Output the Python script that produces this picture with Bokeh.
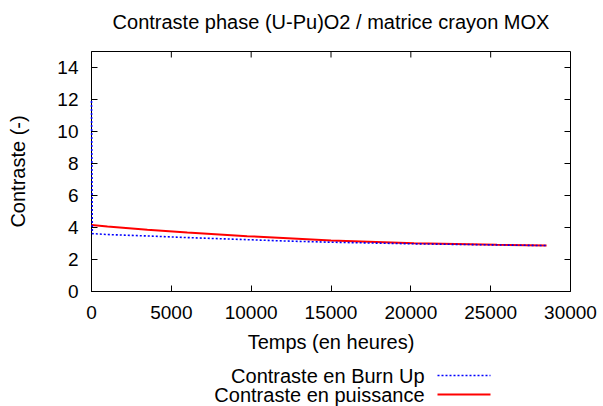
from bokeh.plotting import figure
from bokeh.models import FixedTicker, Range1d
from bokeh.layouts import column
from bokeh.embed import file_html
from bokeh.resources import INLINE
from bokeh.core.properties import value

# ---- data ----
time_burnup = [0, 50, 1000, 3500, 6000, 9750, 12000, 15000, 20200, 25400, 28500]
contrast_burnup = [11.9, 3.62, 3.56, 3.47, 3.37, 3.24, 3.16, 3.08, 2.98, 2.91, 2.87]
time_power = [0, 1000, 3500, 6000, 9750, 12000, 15000, 20200, 25400, 28500]
contrast_power = [4.15, 4.06, 3.86, 3.69, 3.46, 3.34, 3.18, 3.01, 2.92, 2.88]
x_ticks = [0, 5000, 10000, 15000, 20000, 25000, 30000]
y_ticks = [0, 2, 4, 6, 8, 10, 12, 14]
legend_labels = ["Contraste en Burn Up", "Contraste en puissance"]
title_text = "Contraste phase (U-Pu)O2 / matrice crayon MOX"
x_label = "Temps (en heures)"
y_label = "Contraste (-)"

X_MIN, X_MAX = 0, 30000
Y_MIN, Y_MAX = 0, 15

FONT = "Liberation Sans"
FS_TICK = "19px"
FS = "20px"
W = 603
H_TITLE = 40
H_MAIN = 320
H_LEG = 46
B_LEFT, B_RIGHT, B_TOP, B_BOTTOM = 91, 33, 11, 69
TICK = 6


def blank_figure(height, w=W):
    f = figure(width=w, height=height, output_backend="svg", toolbar_location=None,
               title=None, x_range=Range1d(0, w), y_range=Range1d(0, height),
               min_border=0, x_axis_location=None, y_axis_location=None,
               frame_align=False)
    f.xgrid.visible = False
    f.ygrid.visible = False
    f.outline_line_color = None
    return f


frame_w = W - B_LEFT - B_RIGHT
frame_h = H_MAIN - B_TOP - B_BOTTOM

# ---- title strip ----
tfig = blank_figure(H_TITLE)
tfig.text(x=[B_LEFT + frame_w / 2], y=[H_TITLE - 21], text=[title_text],
          text_align="center", text_baseline="middle", text_font=value(FONT),
          text_font_size=FS, text_color="black")

# ---- main plot ----
p = figure(width=W, height=H_MAIN, output_backend="svg", toolbar_location=None,
           title=None, x_range=Range1d(X_MIN, X_MAX), y_range=Range1d(Y_MIN, Y_MAX),
           min_border_left=B_LEFT, min_border_right=B_RIGHT,
           min_border_top=B_TOP, min_border_bottom=B_BOTTOM, frame_align=False)
p.xgrid.visible = False
p.ygrid.visible = False
p.outline_line_color = "black"
p.outline_line_alpha = 1.0
p.background_fill_color = "white"
p.border_fill_color = "white"


def style_axis(ax, ticks):
    ax.ticker = FixedTicker(ticks=ticks)
    ax.major_tick_in = TICK
    ax.major_tick_out = 0
    ax.minor_tick_in = 0
    ax.minor_tick_out = 0
    ax.axis_line_color = "black"
    ax.major_tick_line_color = "black"
    ax.major_label_text_font = FONT
    ax.major_label_text_font_size = FS_TICK
    ax.major_label_text_color = "black"
    ax.axis_label_text_font = FONT
    ax.axis_label_text_font_size = FS
    ax.axis_label_text_font_style = "normal"
    ax.axis_label_text_color = "black"


xa = p.xaxis[0]
style_axis(xa, x_ticks)
xa.axis_label = x_label
xa.major_label_standoff = 14
xa.axis_label_standoff = 9

ya = p.yaxis[0]
style_axis(ya, y_ticks)
ya.axis_label = y_label
ya.major_label_standoff = 13
ya.axis_label_standoff = 25

# mirrored inner ticks on the top and right edges of the frame (gnuplot style)
dx_tick = TICK * (X_MAX - X_MIN) / frame_w
dy_tick = TICK * (Y_MAX - Y_MIN) / frame_h
p.segment(x0=x_ticks, y0=[Y_MAX] * len(x_ticks), x1=x_ticks,
          y1=[Y_MAX - dy_tick] * len(x_ticks), line_color="black", line_width=1)
p.segment(x0=[X_MAX] * len(y_ticks), y0=y_ticks, x1=[X_MAX - dx_tick] * len(y_ticks),
          y1=y_ticks, line_color="black", line_width=1)

p.line(time_power, contrast_power, line_color="#ff0000", line_width=2,
       level="overlay")
p.line(time_burnup, contrast_burnup, line_color="#0000ff", line_width=1.6,
       line_dash="2 2", level="overlay")

# ---- legend (gnuplot style: text then sample, right aligned) ----
leg = blank_figure(H_LEG)
row_y = [H_LEG - 15, H_LEG - 34]
text_x = 424
sample_x0, sample_x1 = 437, 490
leg.text(x=[text_x, text_x], y=row_y, text=legend_labels, text_align="right",
         text_baseline="middle", text_font=value(FONT), text_font_size=FS,
         text_color="black")
leg.line([sample_x0, sample_x1], [row_y[0], row_y[0]], line_color="#0000ff",
         line_width=1.6, line_dash="2 2")
leg.line([sample_x0, sample_x1], [row_y[1], row_y[1]], line_color="#ff0000",
         line_width=2)

layout = column(tfig, p, leg, spacing=0)
open("out.html", "w").write(file_html(layout, INLINE))
